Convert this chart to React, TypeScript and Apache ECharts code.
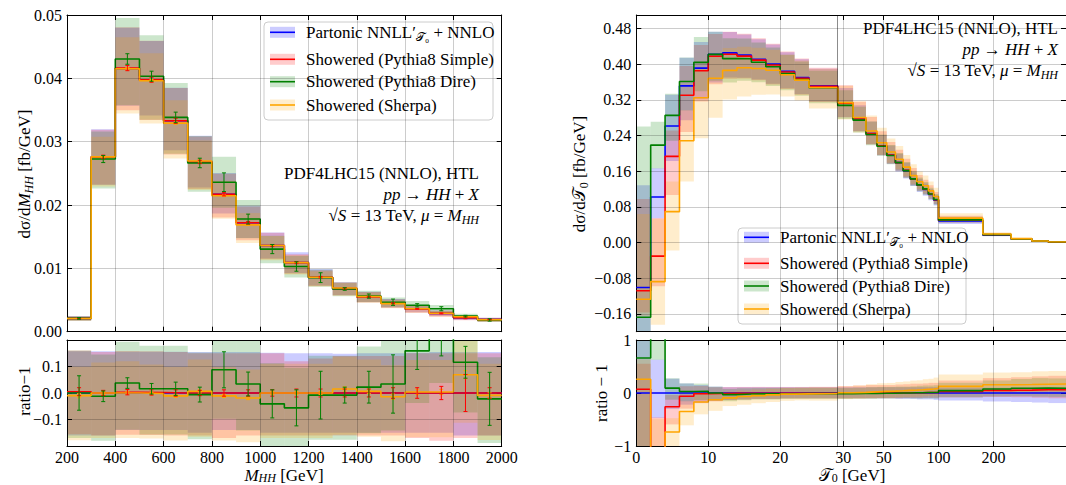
import React, { useEffect, useRef } from "react";
import * as echarts from "echarts";

const SERIF = "'Liberation Serif', 'DejaVu Serif', serif";
const COLORS = ["#0000ff", "#ff0000", "#008000", "#ffa500"];
const BAND_COLORS = ["rgba(0,0,255,0.2)", "rgba(255,0,0,0.2)", "rgba(0,128,0,0.2)", "rgba(255,165,0,0.2)"];
const GRID_COLOR = "rgba(0,0,0,0.2)";

// ---------------- Left panel: M_HH ----------------
const MHH_EDGES = [200, 300, 400, 500, 600, 700, 800, 900, 1000, 1100, 1200, 1300, 1400, 1500, 1600, 1700, 1800, 1900, 2000];
const MHH_PARTONIC = [0.0021, 0.0276, 0.0415, 0.0397, 0.0333, 0.0268, 0.0217, 0.0172, 0.0136, 0.0109, 0.0086, 0.0068, 0.0055, 0.0045, 0.0036, 0.0029, 0.0022, 0.0019];
const MHH_RATIO_PARTONIC = [0, 0, 0, 0, 0, 0, 0, 0, 0, 0, 0, 0, 0, 0, 0, 0, 0, 0];
const MHH_RATIO_SIMPLE = [0.005, 0.0, 0.003, 0.002, 0.0, 0.0, 0.0, 0.0, 0.0, 0.0, 0.0, 0.0, 0.0, 0.0, 0.0, 0.0, 0.0, 0.0];
const MHH_RATIO_DIRE = [0.0, -0.0125, 0.0375, 0.016, 0.016, -0.006, 0.0875, 0.034, -0.041, -0.056, -0.008, -0.008, 0.022, 0.034, 0.159, 0.25, 0.116, -0.022];
const MHH_RATIO_SHERPA = [-0.01, 0.0, 0.0, -0.002, -0.011, 0.006, -0.011, -0.019, 0.0, 0.0, 0.0, 0.015, 0.006, -0.014, 0.004, 0.004, 0.069, -0.009];

const MHH_UP_PARTONIC = [0.158, 0.158, 0.156, 0.156, 0.156, 0.155, 0.155, 0.155, 0.152, 0.15, 0.15, 0.148, 0.15, 0.15, 0.152, 0.155, 0.155, 0.155];
const MHH_DN_PARTONIC = [0.16, 0.16, 0.14, 0.14, 0.14, 0.15, 0.14, 0.14, 0.15, 0.15, 0.15, 0.15, 0.15, 0.15, 0.15, 0.15, 0.16, 0.16];
const MHH_UP_SIMPLE = [0.155, 0.155, 0.155, 0.155, 0.155, 0.15, 0.15, 0.15, 0.15, 0.12, 0.13, 0.14, 0.14, 0.14, 0.15, 0.15, 0.15, 0.15];
const MHH_DN_SIMPLE = [0.16, 0.16, 0.16, 0.16, 0.16, 0.16, 0.17, 0.16, 0.16, 0.16, 0.16, 0.16, 0.16, 0.16, 0.17, 0.18, 0.17, 0.16];
const MHH_UP_DIRE = [0.16, 0.16, 0.15, 0.16, 0.16, 0.16, 0.17, 0.17, 0.16, 0.16, 0.15, 0.15, 0.15, 0.16, 0.16, 0.16, 0.16, 0.16];
const MHH_DN_DIRE = [0.17, 0.17, 0.17, 0.17, 0.17, 0.17, 0.17, 0.17, 0.17, 0.17, 0.17, 0.17, 0.17, 0.17, 0.17, 0.17, 0.17, 0.17];
const MHH_UP_SHERPA = [0.11, 0.115, 0.12, 0.11, 0.11, 0.12, 0.11, 0.11, 0.11, 0.11, 0.11, 0.12, 0.12, 0.12, 0.12, 0.12, 0.12, 0.12];
const MHH_DN_SHERPA = [0.17, 0.17, 0.17, 0.17, 0.17, 0.17, 0.17, 0.17, 0.17, 0.17, 0.17, 0.17, 0.17, 0.17, 0.17, 0.17, 0.17, 0.17];

const MHH_ERR_SIMPLE = [0.015, 0.01, 0.01, 0.01, 0.012, 0.01, 0.012, 0.012, 0.012, 0.015, 0.015, 0.015, 0.015, 0.02, 0.02, 0.025, 0.07, 0.02];
const MHH_ERR_DIRE = [0.065, 0.02, 0.02, 0.02, 0.025, 0.028, 0.068, 0.045, 0.053, 0.068, 0.09, 0.03, 0.06, 0.11, 0.07, 0.11, 0.06, 0.1];
const MHH_ERR_SHERPA = [0.008, 0.005, 0.005, 0.005, 0.006, 0.006, 0.006, 0.006, 0.006, 0.006, 0.006, 0.008, 0.008, 0.01, 0.01, 0.01, 0.015, 0.01];

// ---------------- Right panel: T0 ----------------
const T0_EDGES = [0, 2, 4, 6, 8, 10, 12, 14, 16, 18, 20, 22, 24, 28, 34, 40, 46, 52, 58, 64, 70, 76, 82, 88, 94, 100, 175, 250, 325, 400, 500];
const T0_PARTONIC = [-0.101, 0.102, 0.261, 0.351, 0.391, 0.4217, 0.425, 0.42, 0.4105, 0.4, 0.384, 0.37, 0.351, 0.312, 0.277, 0.2445, 0.217, 0.196, 0.179, 0.161, 0.142, 0.1285, 0.119, 0.1077, 0.095, 0.0485, 0.0164, 0.0075, 0.003, 0.001];
const T0_RATIO_PARTONIC = [0, 0, 0, 0, 0, 0, 0, 0, 0, 0, 0, 0, 0, 0, 0, 0, 0, 0, 0, 0, 0, 0, 0, 0, 0, 0, 0, 0, 0, 0];
const T0_RATIO_SIMPLE = [0.07, -1.3, -0.26, -0.06, -0.015, -0.01, -0.007, -0.005, -0.004, -0.005, -0.005, -0.005, -0.003, 0.0, 0.0, 0.0, 0.0, 0.0, 0.0, 0.005, 0.005, 0.005, 0.01, 0.01, 0.01, 0.03, 0.05, 0.055, 0.06, 0.06];
const T0_RATIO_DIRE = [0.66, 1.14, 0.092, 0.028, 0.033, 0.0, -0.03, -0.019, -0.016, -0.015, -0.013, -0.012, -0.012, -0.015, -0.01, -0.01, -0.005, -0.005, 0.0, 0.0, 0.005, 0.005, 0.01, 0.01, 0.015, 0.045, 0.075, 0.09, 0.095, 0.09];
const T0_RATIO_SHERPA = [0.26, -1.86, -0.735, -0.35, -0.17, -0.127, -0.092, -0.067, -0.05, -0.035, -0.021, -0.016, -0.01, 0.005, 0.012, 0.022, 0.03, 0.035, 0.042, 0.05, 0.055, 0.06, 0.068, 0.075, 0.085, 0.125, 0.155, 0.16, 0.165, 0.17];

const T0_UP_PARTONIC = [2.27, 0.63, 0.27, 0.18, 0.15, 0.12, 0.11, 0.11, 0.11, 0.11, 0.11, 0.11, 0.11, 0.11, 0.11, 0.11, 0.11, 0.11, 0.11, 0.11, 0.11, 0.11, 0.11, 0.11, 0.11, 0.1, 0.1, 0.1, 0.1, 0.1];
const T0_DN_PARTONIC = [0.98, 0.47, 0.3, 0.22, 0.18, 0.15, 0.13, 0.12, 0.11, 0.11, 0.1, 0.1, 0.1, 0.1, 0.1, 0.1, 0.1, 0.1, 0.11, 0.11, 0.11, 0.12, 0.12, 0.12, 0.13, 0.14, 0.16, 0.17, 0.18, 0.19];
const T0_UP_SIMPLE = [1.9, 2.8, 0.3, 0.2, 0.15, 0.12, 0.12, 0.12, 0.12, 0.12, 0.12, 0.12, 0.12, 0.13, 0.14, 0.15, 0.15, 0.15, 0.16, 0.16, 0.17, 0.17, 0.17, 0.18, 0.18, 0.2, 0.22, 0.23, 0.24, 0.25];
const T0_DN_SIMPLE = [0.45, 2.2, 0.45, 0.25, 0.18, 0.15, 0.13, 0.12, 0.11, 0.11, 0.1, 0.1, 0.1, 0.1, 0.1, 0.1, 0.1, 0.1, 0.1, 0.1, 0.1, 0.1, 0.1, 0.1, 0.1, 0.11, 0.12, 0.13, 0.14, 0.15];
const T0_UP_DIRE = [2.55, 0.24, 0.17, 0.15, 0.14, 0.12, 0.11, 0.11, 0.11, 0.11, 0.11, 0.11, 0.11, 0.11, 0.11, 0.12, 0.12, 0.12, 0.12, 0.12, 0.12, 0.13, 0.13, 0.13, 0.13, 0.14, 0.15, 0.16, 0.17, 0.17];
const T0_DN_DIRE = [0.4, 0.24, 0.2, 0.18, 0.16, 0.14, 0.13, 0.12, 0.11, 0.11, 0.1, 0.1, 0.1, 0.1, 0.1, 0.1, 0.1, 0.1, 0.1, 0.1, 0.11, 0.11, 0.11, 0.11, 0.12, 0.12, 0.13, 0.14, 0.15, 0.15];
const T0_UP_SHERPA = [1.5, 1.6, 0.98, 0.3, 0.2, 0.15, 0.13, 0.12, 0.12, 0.12, 0.12, 0.12, 0.12, 0.12, 0.13, 0.14, 0.15, 0.15, 0.16, 0.16, 0.17, 0.17, 0.18, 0.18, 0.19, 0.2, 0.2, 0.2, 0.21, 0.21];
const T0_DN_SHERPA = [0.3, 1.1, 1.26, 0.4, 0.28, 0.24, 0.17, 0.165, 0.15, 0.14, 0.13, 0.125, 0.135, 0.12, 0.12, 0.12, 0.12, 0.12, 0.12, 0.12, 0.12, 0.12, 0.12, 0.12, 0.12, 0.12, 0.12, 0.12, 0.12, 0.12];

const T0_TICKS = [0, 10, 20, 30, 50, 100, 200];
const T0_TICK_LABELS = ["0", "10", "20", "30", "50", "100", "200"];
const T0_BREAK = 28;

// axis scale: linear up to 28, logarithmic beyond
const KLOG = 25.35;
const tmap = (x: number) => (x <= T0_BREAK ? x : T0_BREAK + KLOG * Math.log10(x / T0_BREAK));
const TMAX = tmap(500);

const minus = (s: string) => s.replace("-", "\u2212");

const FS = 17;
const RICH = {
  r: { fontFamily: SERIF, fontSize: FS, fill: "#000", color: "#000", lineHeight: 22 },
  i: { fontFamily: SERIF, fontSize: FS, fontStyle: "italic", fill: "#000", color: "#000", lineHeight: 22 },
  s: { fontFamily: SERIF, fontSize: 12, fontStyle: "italic", fill: "#000", color: "#000", lineHeight: 12, padding: [9, 0, 0, 0] },
  sr: { fontFamily: SERIF, fontSize: 12, fill: "#000", color: "#000", lineHeight: 12, padding: [9, 0, 0, 0] },
};
const RICH_T = {
  r: { fontFamily: SERIF, fontSize: FS, fill: "#000", color: "#000", lineHeight: 17 },
  i: { fontFamily: SERIF, fontSize: FS, fontStyle: "italic", fill: "#000", color: "#000", lineHeight: 17 },
  s: { fontFamily: SERIF, fontSize: 12, fontStyle: "italic", fill: "#000", color: "#000", lineHeight: 11, padding: [6, 0, 0, 0] },
  sr: { fontFamily: SERIF, fontSize: 12, fill: "#000", color: "#000", lineHeight: 11, padding: [6, 0, 0, 0] },
};

type DS = { c: number[]; lo: number[]; hi: number[]; r: number[]; rlo: number[]; rhi: number[] };

function buildSets(B: number[], ratios: number[][], ups: number[][], dns: number[][]): DS[] {
  return ratios.map((r, k) => {
    const c = B.map((b, i) => b * (1 + r[i]));
    const hi = c.map((v, i) => v + ups[k][i] * Math.abs(v));
    const lo = c.map((v, i) => v - dns[k][i] * Math.abs(v));
    const rhi = hi.map((v, i) => v / B[i] - 1);
    const rlo = lo.map((v, i) => v / B[i] - 1);
    return { c, lo, hi, r, rlo, rhi };
  });
}

function stepData(edges: number[], vals: number[]) {
  const d: number[][] = vals.map((v, i) => [edges[i], v]);
  d.push([edges[edges.length - 1], vals[vals.length - 1]]);
  return d;
}

function bandSeries(g: number, edges: number[], lo: number[], hi: number[], color: string) {
  return {
    type: "custom",
    xAxisIndex: 2 * g,
    yAxisIndex: 2 * g,
    z: 1,
    silent: true,
    clip: true,
    encode: { x: [0, 1], y: [2, 3] },
    data: lo.map((l, i) => [edges[i], edges[i + 1], l, hi[i]]),
    renderItem: (params: any, api: any) => {
      const x0 = api.value(0), x1 = api.value(1), a = api.value(2), b = api.value(3);
      const p0 = api.coord([x0, Math.max(a, b)]);
      const p1 = api.coord([x1, Math.min(a, b)]);
      const cs = params.coordSys;
      const left = Math.max(p0[0], cs.x), right = Math.min(p1[0], cs.x + cs.width);
      const top = Math.max(p0[1], cs.y), bottom = Math.min(p1[1], cs.y + cs.height);
      if (right <= left || bottom <= top) return null;
      return { type: "rect", shape: { x: left, y: top, width: right - left, height: bottom - top }, style: { fill: color } };
    },
  };
}

function lineSeries(g: number, edges: number[], vals: number[], color: string) {
  return {
    type: "line",
    xAxisIndex: 2 * g,
    yAxisIndex: 2 * g,
    step: "end",
    z: 3,
    silent: true,
    symbol: "none",
    showSymbol: false,
    clip: true,
    lineStyle: { color, width: 1.6 },
    data: stepData(edges, vals),
  };
}

function errSeries(g: number, edges: number[], vals: number[], errs: number[], color: string) {
  return {
    type: "custom",
    xAxisIndex: 2 * g,
    yAxisIndex: 2 * g,
    z: 4,
    silent: true,
    encode: { x: 0, y: 1 },
    data: vals.map((v, i) => [(edges[i] + edges[i + 1]) / 2, v, errs[i]]),
    renderItem: (params: any, api: any) => {
      const x = api.value(0), y = api.value(1), e = api.value(2);
      const cs = params.coordSys;
      const pt = api.coord([x, y + e]);
      const pb = api.coord([x, y - e]);
      const cl = (v: number) => Math.min(Math.max(v, cs.y), cs.y + cs.height);
      const yt = cl(pt[1]), yb = cl(pb[1]);
      if (yb <= yt) return null;
      const st = { stroke: color, lineWidth: 1 };
      const ch: any[] = [{ type: "line", shape: { x1: pt[0], y1: yt, x2: pt[0], y2: yb }, style: st }];
      if (pt[1] >= cs.y) ch.push({ type: "line", shape: { x1: pt[0] - 2, y1: pt[1], x2: pt[0] + 2, y2: pt[1] }, style: st });
      if (pb[1] <= cs.y + cs.height) ch.push({ type: "line", shape: { x1: pb[0] - 2, y1: pb[1], x2: pb[0] + 2, y2: pb[1] }, style: st });
      return { type: "group", children: ch };
    },
  };
}

function gridLineSeries(g: number, xs: any[], ys: number[], origin: number[]) {
  return {
    type: "line",
    xAxisIndex: 2 * g,
    yAxisIndex: 2 * g,
    z: 2,
    silent: true,
    symbol: "none",
    showSymbol: false,
    lineStyle: { opacity: 0 },
    data: [origin],
    markLine: {
      silent: true,
      symbol: ["none", "none"],
      label: { show: false },
      animation: false,
      lineStyle: { color: GRID_COLOR, width: 1, type: "solid" },
      data: [
        ...xs.map((x) => (typeof x === "number" ? { xAxis: x } : x)),
        ...ys.map((y) => ({ yAxis: y })),
      ],
    },
  };
}

function axisPair(g: number, kind: "x" | "y", spec: any) {
  const base = (pos: string, showLabel: boolean) => {
    const a: any = {
      gridIndex: g,
      type: "value",
      position: pos,
      min: spec.min,
      max: spec.max,
      z: 2,
      axisLine: { show: true, onZero: false, lineStyle: { color: "#000", width: 1 } },
      axisTick: { show: true, inside: true, length: 5, lineStyle: { color: "#000", width: 1 } },
      axisLabel: {
        show: showLabel,
        fontFamily: SERIF,
        fontSize: 16,
        color: "#000",
        margin: kind === "x" ? 3 : 5,
        lineHeight: 16,
        formatter: spec.fmt,
      },
      splitLine: { show: false },
    };
    if (spec.interval !== undefined) a.interval = spec.interval;
    if (spec.custom) {
      a.axisTick.customValues = spec.custom;
      a.axisLabel.customValues = spec.custom;
    }
    return a;
  };
  if (kind === "x") return [base("bottom", !!spec.labels), base("top", false)];
  return [base("left", true), base("right", false)];
}

function legendGraphic(x: number, y: number, w: number, h: number, rows: number[], patchX: number, textX: number, labels: string[]) {
  const children: any[] = [
    {
      type: "rect",
      shape: { x, y, width: w, height: h, r: 4 },
      style: { fill: "rgba(255,255,255,0.8)", stroke: "#cccccc", lineWidth: 1 },
    },
  ];
  rows.forEach((ry, k) => {
    children.push({ type: "rect", shape: { x: patchX, y: ry - 5.5, width: 25, height: 11 }, style: { fill: BAND_COLORS[k] } });
    children.push({ type: "line", shape: { x1: patchX, y1: ry, x2: patchX + 25, y2: ry }, style: { stroke: COLORS[k], lineWidth: 1.6 } });
    children.push({
      type: "text",
      x: textX,
      y: ry,
      style: { text: labels[k], rich: RICH, fontFamily: SERIF, fontSize: FS, fill: "#000", align: "left", verticalAlign: "middle" },
    });
  });
  return { type: "group", z: 10, children };
}

function textG(x: number, y: number, text: string, align: string, rot = 0, rich: any = RICH) {
  return {
    type: "text",
    x,
    y,
    rotation: rot,
    z: 10,
    style: { text, rich, fontFamily: SERIF, fontSize: FS, fill: "#000", align, verticalAlign: "middle" },
  };
}

function buildOption() {
  const mhhSets = buildSets(
    MHH_PARTONIC,
    [MHH_RATIO_PARTONIC, MHH_RATIO_SIMPLE, MHH_RATIO_DIRE, MHH_RATIO_SHERPA],
    [MHH_UP_PARTONIC, MHH_UP_SIMPLE, MHH_UP_DIRE, MHH_UP_SHERPA],
    [MHH_DN_PARTONIC, MHH_DN_SIMPLE, MHH_DN_DIRE, MHH_DN_SHERPA]
  );
  const t0Sets = buildSets(
    T0_PARTONIC,
    [T0_RATIO_PARTONIC, T0_RATIO_SIMPLE, T0_RATIO_DIRE, T0_RATIO_SHERPA],
    [T0_UP_PARTONIC, T0_UP_SIMPLE, T0_UP_DIRE, T0_UP_SHERPA],
    [T0_DN_PARTONIC, T0_DN_SIMPLE, T0_DN_DIRE, T0_DN_SHERPA]
  );
  const tEdges = T0_EDGES.map(tmap);
  const tTicks = T0_TICKS.map(tmap);
  const tFmt = (v: number) => {
    let best = 0;
    tTicks.forEach((t, i) => {
      if (Math.abs(t - v) < Math.abs(tTicks[best] - v)) best = i;
    });
    return T0_TICK_LABELS[best];
  };

  const grids = [
    { left: 67, top: 15, width: 434.7, height: 316.7 },
    { left: 67, top: 340, width: 434.7, height: 106 },
    { left: 636.3, top: 15, width: 432.5, height: 316.7 },
    { left: 636.3, top: 340, width: 432.5, height: 106 },
  ];

  const t0YTicks = [-0.16, -0.08, 0, 0.08, 0.16, 0.24, 0.32, 0.4, 0.48];
  const xAxis: any[] = [
    ...axisPair(0, "x", { min: 200, max: 2000, interval: 200, labels: false }),
    ...axisPair(1, "x", { min: 200, max: 2000, interval: 200, labels: true, fmt: (v: number) => String(Math.round(v)) }),
    ...axisPair(2, "x", { min: 0, max: TMAX, custom: tTicks, labels: false, fmt: tFmt }),
    ...axisPair(3, "x", { min: 0, max: TMAX, custom: tTicks, labels: true, fmt: tFmt }),
  ];
  const yAxis: any[] = [
    ...axisPair(0, "y", { min: 0, max: 0.05, interval: 0.01, fmt: (v: number) => v.toFixed(2) }),
    ...axisPair(1, "y", { min: -0.2, max: 0.2, custom: [-0.1, 0, 0.1], fmt: (v: number) => minus(v.toFixed(1)) }),
    ...axisPair(2, "y", { min: -0.2, max: 0.51, custom: t0YTicks, fmt: (v: number) => minus(v.toFixed(2)) }),
    ...axisPair(3, "y", { min: -1, max: 1, interval: 1, fmt: (v: number) => minus(String(Math.round(v))) }),
  ];

  const series: any[] = [];
  for (let k = 0; k < 4; k++) {
    series.push(bandSeries(0, MHH_EDGES, mhhSets[k].lo, mhhSets[k].hi, BAND_COLORS[k]));
    series.push(bandSeries(1, MHH_EDGES, mhhSets[k].rlo, mhhSets[k].rhi, BAND_COLORS[k]));
    series.push(bandSeries(2, tEdges, t0Sets[k].lo, t0Sets[k].hi, BAND_COLORS[k]));
    series.push(bandSeries(3, tEdges, t0Sets[k].rlo, t0Sets[k].rhi, BAND_COLORS[k]));
  }
  const mhhGridX = [400, 600, 800, 1000, 1200, 1400, 1600, 1800];
  series.push(gridLineSeries(0, mhhGridX, [0.01, 0.02, 0.03, 0.04], [200, 0]));
  series.push(gridLineSeries(1, mhhGridX, [-0.1, 0.1], [200, 0]));
  const breakLine = { xAxis: tmap(T0_BREAK), lineStyle: { color: "rgba(0,0,0,0.45)", width: 1, type: "solid" } };
  const tGridX = [tmap(10), tmap(20), tmap(30), tmap(50), tmap(100), tmap(200), breakLine];
  series.push(gridLineSeries(2, tGridX, t0YTicks, [0, 0]));
  series.push(gridLineSeries(3, tGridX, [], [0, 0]));
  for (let k = 0; k < 4; k++) {
    series.push(lineSeries(0, MHH_EDGES, mhhSets[k].c, COLORS[k]));
    series.push(lineSeries(1, MHH_EDGES, mhhSets[k].r, COLORS[k]));
    series.push(lineSeries(2, tEdges, t0Sets[k].c, COLORS[k]));
    series.push(lineSeries(3, tEdges, t0Sets[k].r, COLORS[k]));
  }
  const errs = [null, MHH_ERR_SIMPLE, MHH_ERR_DIRE, MHH_ERR_SHERPA];
  for (const k of [3, 1, 2]) {
    const e = errs[k] as number[];
    series.push(errSeries(0, MHH_EDGES, mhhSets[k].c, e.map((v, i) => v * MHH_PARTONIC[i]), COLORS[k]));
    series.push(errSeries(1, MHH_EDGES, mhhSets[k].r, e, COLORS[k]));
  }

  const legendLabels = [
    "{r|Partonic NNLL′}{sr|𝒯₀}{r| + NNLO}",
    "{r|Showered (Pythia8 Simple)}",
    "{r|Showered (Pythia8 Dire)}",
    "{r|Showered (Sherpa)}",
  ];

  const graphic: any[] = [
    legendGraphic(264, 22, 229, 98, [32.3, 59.3, 81.7, 105], 270, 306, legendLabels),
    legendGraphic(738, 228, 228, 96, [237.3, 263.3, 286, 309], 744, 780, legendLabels),
    textG(479, 173, "{r|PDF4LHC15 (NNLO), HTL}", "right"),
    textG(479, 194, "{i|pp}{r| → }{i|HH}{r| + }{i|X}", "right"),
    textG(479, 215, "{r|√}{i|S}{r| = 13 TeV, }{i|μ}{r| = }{i|M}{s|HH}", "right"),
    textG(1058, 28, "{r|PDF4LHC15 (NNLO), HTL}", "right"),
    textG(1058, 49, "{i|pp}{r| → }{i|HH}{r| + }{i|X}", "right"),
    textG(1058, 70, "{r|√}{i|S}{r| = 13 TeV, }{i|μ}{r| = }{i|M}{s|HH}", "right"),
    textG(24, 174, "{r|dσ/d}{i|M}{s|HH}{r| [fb/GeV]}", "center", Math.PI / 2),
    textG(24, 391, "{r|ratio−1}", "center", Math.PI / 2),
    textG(579, 174, "{r|dσ/d𝒯}{sr|0}{r| [fb/GeV]}", "center", Math.PI / 2),
    textG(601, 393, "{r|ratio − 1}", "center", Math.PI / 2),
    textG(284, 475, "{i|M}{s|HH}{r| [GeV]}", "center", 0, RICH_T),
    textG(852, 475, "{r|𝒯}{sr|0}{r| [GeV]}", "center", 0, RICH_T),
  ];

  return {
    animation: false,
    backgroundColor: "#ffffff",
    grid: grids,
    xAxis,
    yAxis,
    series,
    graphic,
  };
}

export default function App() {
  const ref = useRef<HTMLDivElement>(null);
  useEffect(() => {
    const chart = echarts.init(ref.current!, undefined, { renderer: "svg" });
    chart.setOption(buildOption() as any);
    return () => chart.dispose();
  }, []);
  return <div ref={ref} style={{ position: "absolute", left: 0, top: 0, width: 1066, height: 485 }} />;
}
